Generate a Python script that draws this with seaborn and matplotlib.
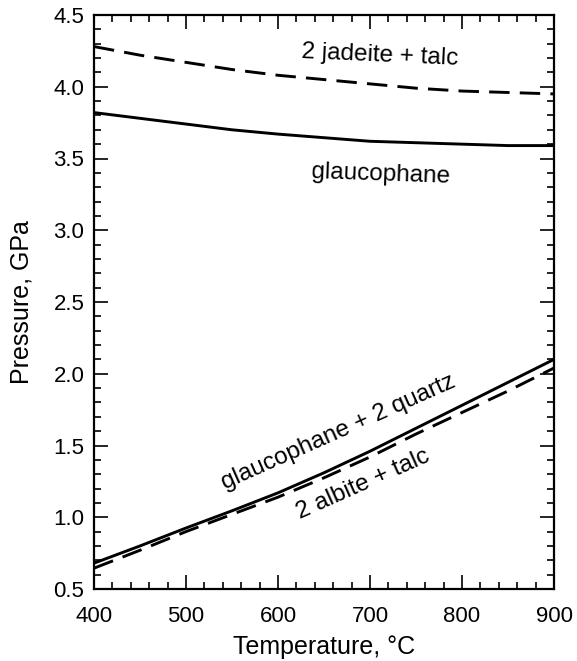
import matplotlib
matplotlib.use("Agg")
import matplotlib.pyplot as plt
from matplotlib.ticker import MultipleLocator
import pandas as pd
import seaborn as sns

temps = [400, 450, 500, 550, 600, 650, 700, 750, 800, 850, 900]
jadeite_talc = [4.28, 4.22, 4.17, 4.12, 4.08, 4.05, 4.02, 3.99, 3.97, 3.96, 3.95]
glaucophane_hi = [3.82, 3.78, 3.74, 3.70, 3.67, 3.645, 3.62, 3.61, 3.60, 3.59, 3.59]
glauc_quartz = [0.68, 0.80, 0.925, 1.045, 1.17, 1.31, 1.46, 1.62, 1.78, 1.94, 2.10]
albite_talc = [0.645, 0.77, 0.90, 1.02, 1.14, 1.275, 1.42, 1.58, 1.73, 1.88, 2.04]

sns.set_style("ticks")
plt.rcParams["font.family"] = ["Liberation Sans", "DejaVu Sans"]
plt.rcParams["text.color"] = "black"
plt.rcParams["axes.labelcolor"] = "black"

fig = plt.figure(figsize=(5.77, 6.61), dpi=100)
ax = fig.add_axes([94 / 577, 72 / 661, 460 / 577, 574 / 661])

df = pd.DataFrame({"T": temps, "jt": jadeite_talc, "gh": glaucophane_hi,
                   "gq": glauc_quartz, "at": albite_talc})

lw = 2.1
sns.lineplot(data=df, x="T", y="jt", ax=ax, color="black", lw=lw)
ax.lines[-1].set_dashes((7, 3.5))
sns.lineplot(data=df, x="T", y="gh", ax=ax, color="black", lw=lw)
sns.lineplot(data=df, x="T", y="gq", ax=ax, color="black", lw=lw)
sns.lineplot(data=df, x="T", y="at", ax=ax, color="black", lw=lw)
ax.lines[-1].set_dashes((7, 3.5))

ax.set_xlim(400, 900)
ax.set_ylim(0.5, 4.5)
ax.xaxis.set_major_locator(MultipleLocator(100))
ax.xaxis.set_minor_locator(MultipleLocator(20))
ax.yaxis.set_major_locator(MultipleLocator(0.5))
ax.yaxis.set_minor_locator(MultipleLocator(0.1))
ax.yaxis.set_major_formatter(matplotlib.ticker.FormatStrFormatter("%.1f"))

ax.tick_params(which="both", direction="in", top=True, right=True,
               labelsize=16, color="black", labelcolor="black")
ax.tick_params(which="major", length=10, width=1.2)
ax.tick_params(which="minor", length=5, width=1.2)
ax.tick_params(axis="y", which="major", pad=7)
ax.tick_params(axis="x", which="major", pad=12)
for s in ax.spines.values():
    s.set_linewidth(1.6)
    s.set_color("black")

ax.set_xlabel("Temperature, \u00b0C", fontsize=18, labelpad=6)
ax.set_ylabel("Pressure, GPa", fontsize=18, labelpad=14)

fs = 17.5
ax.text(711, 4.22, "2 jadeite + talc", fontsize=fs, ha="center", va="center", rotation=-2.5)
ax.text(712, 3.39, "glaucophane", fontsize=fs, ha="center", va="center", rotation=-2)
ax.text(666, 1.59, "glaucophane + 2 quartz", fontsize=fs, ha="center", va="center", rotation=24)
ax.text(692, 1.23, "2 albite + talc", fontsize=fs, ha="center", va="center", rotation=24)

fig.savefig("out.png", dpi=100)
